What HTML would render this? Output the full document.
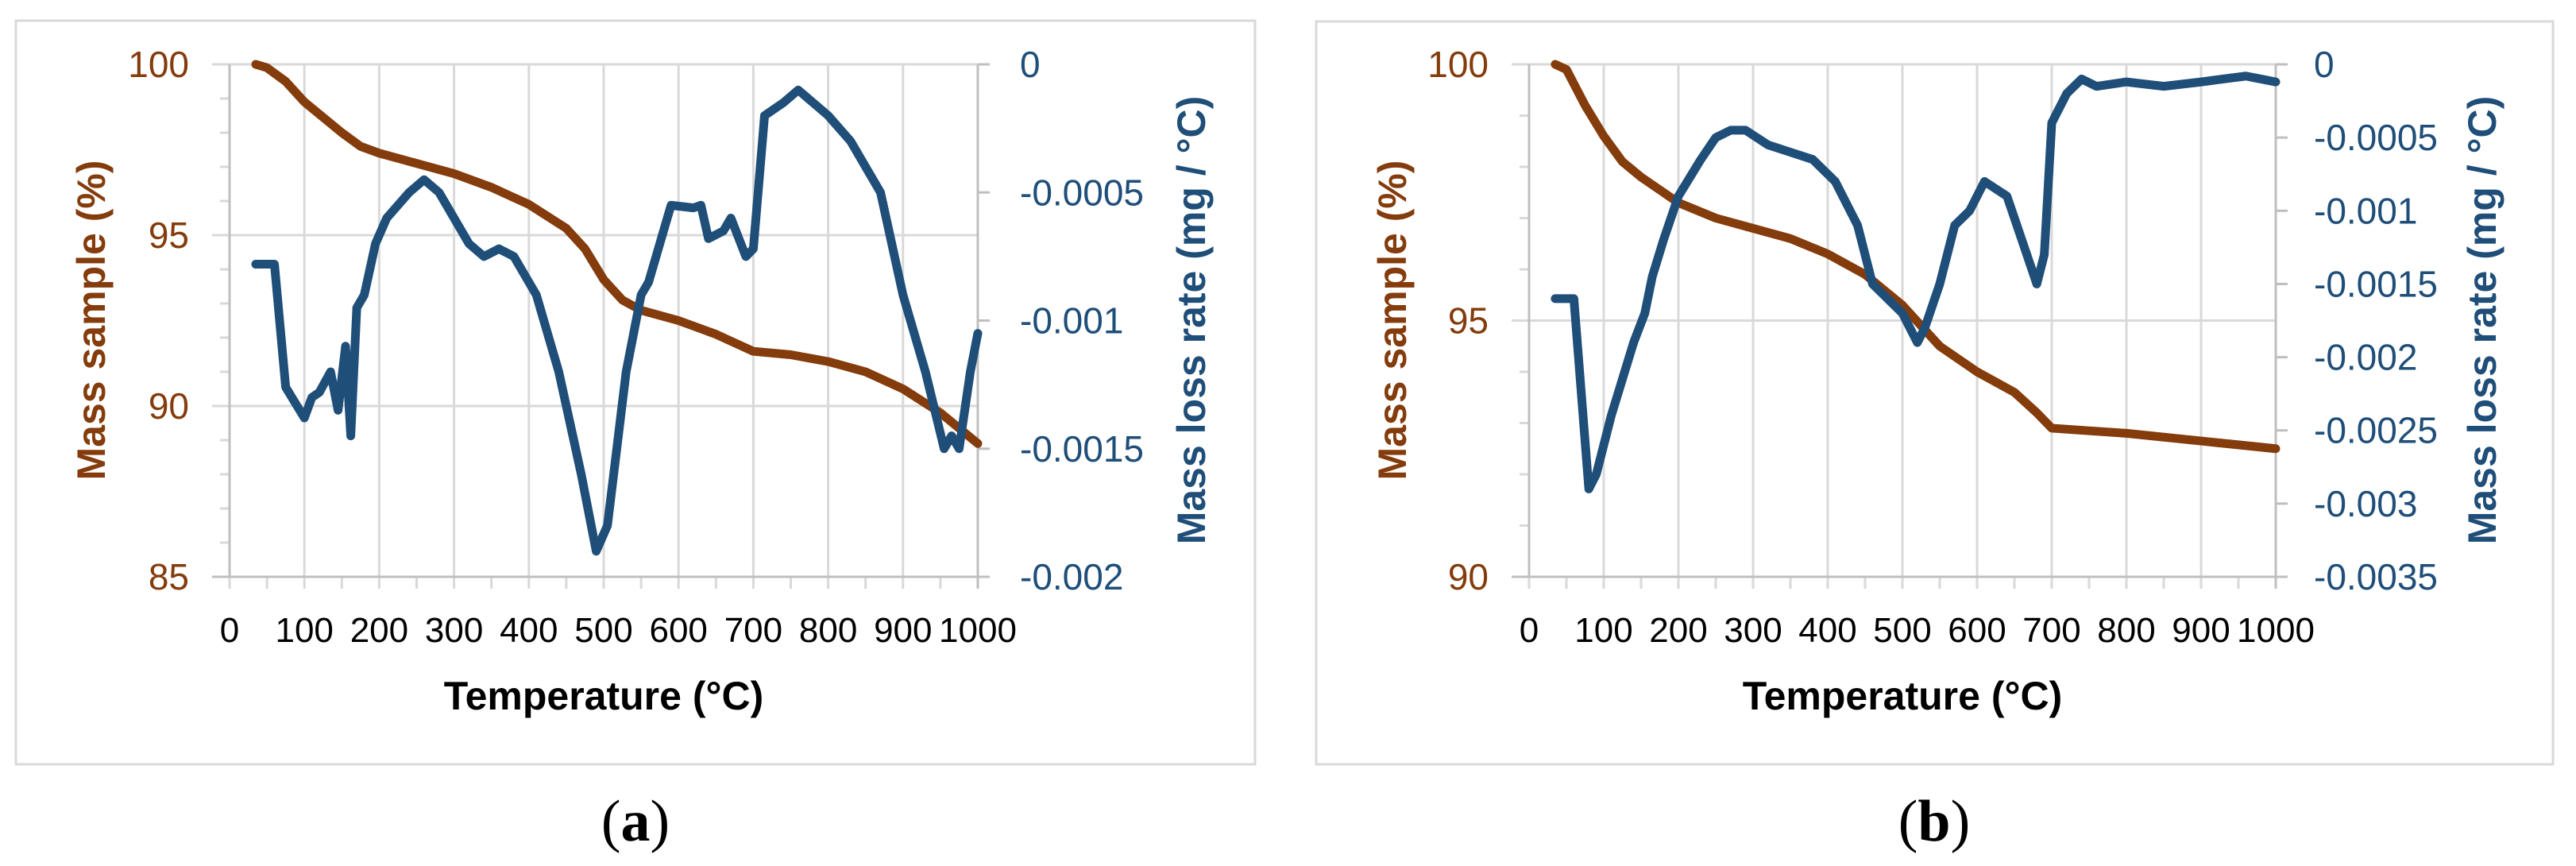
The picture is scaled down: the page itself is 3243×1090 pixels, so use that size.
<!DOCTYPE html>
<html><head><meta charset="utf-8"><style>
html,body{margin:0;padding:0;background:#fff}
svg{display:block}
text{font-family:"Liberation Sans",sans-serif}
</style></head><body>
<svg id="fig" width="3243" height="1090" viewBox="0 0 3243 1090" xmlns="http://www.w3.org/2000/svg">
<rect x="20" y="26" width="1560" height="936" fill="#fff" stroke="#d9d9d9" stroke-width="3"/>
<rect x="1657" y="27" width="1557" height="935" fill="#fff" stroke="#d9d9d9" stroke-width="3"/>
<text x="800" y="1058" text-anchor="middle" font-size="74" style="font-family:'Liberation Serif',serif">(<tspan font-weight="bold">a</tspan>)</text>
<text x="2435" y="1058" text-anchor="middle" font-size="74" style="font-family:'Liberation Serif',serif">(<tspan font-weight="bold">b</tspan>)</text>
<g id="ga"></g>
<g id="gb"></g>
</svg>
<script>
const tempsA=[35,50,75,100,150,175,200,250,300,350,400,450,475,500,525,550,600,650,700,750,800,850,900,950,1000];
const massA=[100,99.9,99.5,98.9,98.0,97.6,97.4,97.1,96.8,96.4,95.9,95.2,94.6,93.7,93.1,92.8,92.5,92.1,91.6,91.5,91.3,91.0,90.5,89.8,88.9];
const rateTempsA=[35,60,75,100,110,120,135,145,155,162,170,180,195,210,225,240,260,280,300,320,340,360,380,410,440,470,490,505,530,550,560,575,590,620,630,640,660,670,690,700,715,740,760,780,800,830,870,900,930,955,965,975,990,1000];
const rateA=[-0.00078,-0.00078,-0.00126,-0.00138,-0.0013,-0.00128,-0.0012,-0.00135,-0.0011,-0.00145,-0.00095,-0.0009,-0.0007,-0.0006,-0.00055,-0.0005,-0.00045,-0.0005,-0.0006,-0.0007,-0.00075,-0.00072,-0.00075,-0.0009,-0.0012,-0.0016,-0.0019,-0.0018,-0.0012,-0.0009,-0.00085,-0.0007,-0.00055,-0.00056,-0.00055,-0.00068,-0.00065,-0.0006,-0.00075,-0.00072,-0.0002,-0.00015,-0.0001,-0.00015,-0.0002,-0.0003,-0.0005,-0.0009,-0.0012,-0.0015,-0.00145,-0.0015,-0.0012,-0.00105];
const tempsB=[35,50,75,100,125,150,200,250,300,350,400,450,500,550,600,650,680,700,750,800,900,1000];
const massB=[100,99.9,99.2,98.6,98.1,97.8,97.3,97.0,96.8,96.6,96.3,95.9,95.3,94.5,94.0,93.6,93.2,92.9,92.85,92.8,92.65,92.5];
const rateTempsB=[35,60,80,90,110,140,155,165,180,200,230,250,270,290,320,350,380,410,440,460,480,500,520,530,550,570,590,610,640,660,680,690,700,720,740,760,800,850,900,960,980,1000];
const rateB=[-0.0016,-0.0016,-0.0029,-0.0028,-0.0024,-0.0019,-0.0017,-0.00145,-0.0012,-0.0009,-0.00065,-0.0005,-0.00045,-0.00045,-0.00055,-0.0006,-0.00065,-0.0008,-0.0011,-0.0015,-0.0016,-0.0017,-0.0019,-0.0018,-0.0015,-0.0011,-0.001,-0.0008,-0.0009,-0.0012,-0.0015,-0.0013,-0.0004,-0.0002,-0.0001,-0.00015,-0.00012,-0.00015,-0.00012,-0.00008,-0.0001,-0.00012];
const xTicks=[0,100,200,300,400,500,600,700,800,900,1000];
const leftTicksA=[85,90,95,100];
const rightTicksA=[0,-0.0005,-0.001,-0.0015,-0.002];
const rightLabelsA=["0","-0.0005","-0.001","-0.0015","-0.002"];
const leftTicksB=[90,95,100];
const rightTicksB=[0,-0.0005,-0.001,-0.0015,-0.002,-0.0025,-0.003,-0.0035];
const rightLabelsB=["0","-0.0005","-0.001","-0.0015","-0.002","-0.0025","-0.003","-0.0035"];

const NS="http://www.w3.org/2000/svg";
const BROWN="#843C0C",BLUE="#1F4E79",GRID="#d9d9d9";
function mk(p,tag,attrs,txt){const e=document.createElementNS(NS,tag);for(const k in attrs)e.setAttribute(k,attrs[k]);if(txt!==undefined)e.textContent=txt;p.appendChild(e);return e;}

function chart(g,cfg){
  const L=cfg.L,R=cfg.R,T=81,B=726;
  const x=v=>L+(v-0)/1000*(R-L);
  const yl=v=>B-(v-cfg.lmin)/(cfg.lmax-cfg.lmin)*(B-T);
  const yr=v=>B-(v-cfg.rmin)/(0-cfg.rmin)*(B-T);
  xTicks.forEach(t=>{
    const l=mk(g,'line',{x1:x(t),x2:x(t),y1:T,y2:B+15,stroke:GRID,'stroke-width':3});
    
    
    const tx=mk(g,'text',{x:x(t),y:808,'text-anchor':'middle','font-size':44,fill:'#000'},String(t));
    
    
  });
  for(let t=50;t<1000;t+=100){mk(g,'line',{x1:x(t),x2:x(t),y1:B,y2:B+15,stroke:GRID,'stroke-width':3});}
  cfg.lt.forEach(t=>{
    const l=mk(g,'line',{x1:L-22,x2:R,y1:yl(t),y2:yl(t),stroke:GRID,'stroke-width':3});
    
    
    const tx=mk(g,'text',{x:cfg.lLabX,y:yl(t)+16,'text-anchor':'end','font-size':46,fill:BROWN},String(t));
    
    
  });
  for(let v=cfg.lmin;v<=cfg.lmax;v++){mk(g,'line',{x1:L-12,x2:L,y1:yl(v),y2:yl(v),stroke:GRID,'stroke-width':3});}
  cfg.rt.forEach((t,i)=>{
    mk(g,'line',{x1:R,x2:R+15,y1:yr(t),y2:yr(t),stroke:'#bfbfbf','stroke-width':3});
    const tx=mk(g,'text',{x:cfg.rLabX,y:yr(t)+16,'text-anchor':'start','font-size':46,fill:BLUE},cfg.rl[i]);
    
    
  });
  mk(g,'line',{x1:L,x2:L,y1:T,y2:B,stroke:'#bfbfbf','stroke-width':3});
  mk(g,'line',{x1:R,x2:R,y1:T,y2:B+15,stroke:'#bfbfbf','stroke-width':3});
  mk(g,'line',{x1:L-22,x2:R+15,y1:B,y2:B,stroke:'#bfbfbf','stroke-width':3});
  const pm=mk(g,'polyline',{points:cfg.mt.map((t,i)=>x(t)+','+yl(cfg.m[i])).join(' '),fill:'none',stroke:BROWN,'stroke-width':11,'stroke-linejoin':'round','stroke-linecap':'round'});
  
  
  const pr=mk(g,'polyline',{points:cfg.rtT.map((t,i)=>x(t)+','+yr(cfg.r[i])).join(' '),fill:'none',stroke:BLUE,'stroke-width':11,'stroke-linejoin':'round','stroke-linecap':'round'});
  
  
  const xt=mk(g,'text',{x:(L+R)/2,y:893,'text-anchor':'middle','font-size':50,'font-weight':'bold',fill:'#000'},'Temperature (°C)');
  
  
  const lt=mk(g,'text',{x:0,y:0,'text-anchor':'middle','font-size':50,'font-weight':'bold',fill:BROWN,transform:`translate(${cfg.lTitleX+17},403) rotate(-90)`},'Mass sample (%)');
  
  
  const rtx=mk(g,'text',{x:0,y:0,'text-anchor':'middle','font-size':50,'font-weight':'bold',fill:BLUE,transform:`translate(${cfg.rTitleX+17},403) rotate(-90)`},'Mass loss rate (mg / °C)');
  
  
}
chart(document.getElementById('ga'),{L:289,R:1231,lmin:85,lmax:100,rmin:-0.002,lt:leftTicksA,rt:rightTicksA,rl:rightLabelsA,mt:tempsA,m:massA,rtT:rateTempsA,r:rateA,lLabX:238,rLabX:1284,lTitleX:115,rTitleX:1500});
chart(document.getElementById('gb'),{L:1925,R:2865,lmin:90,lmax:100,rmin:-0.0035,lt:leftTicksB,rt:rightTicksB,rl:rightLabelsB,mt:tempsB,m:massB,rtT:rateTempsB,r:rateB,lLabX:1874,rLabX:2913,lTitleX:1753,rTitleX:3125});
</script>
</body></html>
